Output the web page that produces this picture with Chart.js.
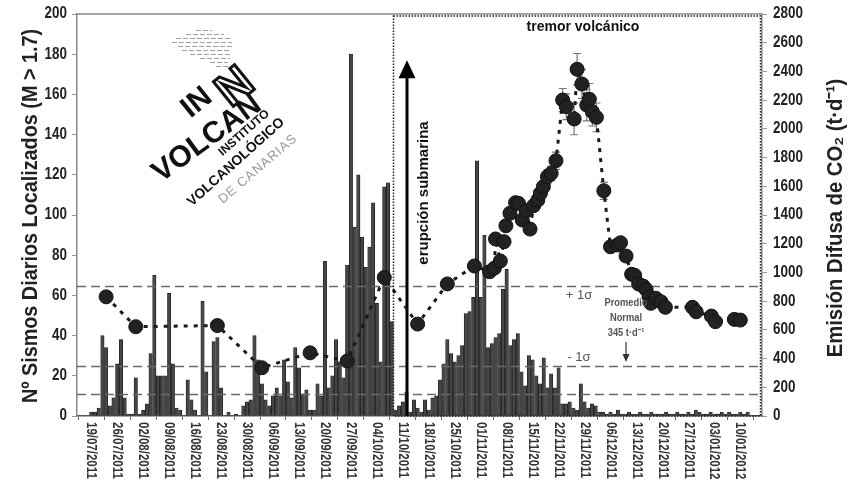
<!DOCTYPE html>
<html>
<head>
<meta charset="utf-8">
<script src="https://cdn.jsdelivr.net/npm/chart.js@4.4.1/dist/chart.umd.min.js"></script>
<style>
  html, body { margin: 0; background: #fff; }
</style>
</head>
<body>
<canvas id="chart" width="848" height="483"></canvas>
<script>
const SANS = '"Liberation Sans", Arial, sans-serif';

// x tick labels, one every 7 days starting 19/07/2011 (day 0)
const xTickLabels = ['19/07/2011', '26/07/2011', '02/08/2011', '09/08/2011', '16/08/2011', '23/08/2011',
  '30/08/2011', '06/09/2011', '13/09/2011', '20/09/2011', '27/09/2011', '04/10/2011', '11/10/2011',
  '18/10/2011', '25/10/2011', '01/11/2011', '08/11/2011', '15/11/2011', '22/11/2011', '29/11/2011',
  '06/12/2011', '13/12/2011', '20/12/2011', '27/12/2011', '03/01/2012', '10/01/2012'];
const tickStep = 7;
const leftTicks = [0, 20, 40, 60, 80, 100, 120, 140, 160, 180, 200];
const rightTicks = [0, 200, 400, 600, 800, 1000, 1200, 1400, 1600, 1800, 2000, 2200, 2400, 2600, 2800];

// daily located earthquakes (M > 1.7), day 0 = 19/07/2011
const quakes = [
  2, 2, 4, 40, 34, 5, 9, 26, 38, 9,
  1, 1, 19, 1, 3, 6, 31, 70, 20, 20,
  20, 61, 26, 4, 3, 0, 18, 8, 3, 0,
  57, 22, 0, 37, 39, 14, 0, 2, 0, 1,
  0, 5, 7, 8, 40, 28, 16, 8, 5, 10,
  14, 10, 28, 17, 9, 34, 24, 11, 13, 3,
  3, 16, 10, 77, 14, 20, 38, 27, 19, 75,
  180, 94, 120, 89, 74, 84, 106, 56, 27, 114,
  116, 47, 3, 5, 7, 12, 2, 8, 4, 2,
  8, 3, 9, 10, 18, 26, 38, 31, 27, 30,
  35, 51, 52, 59, 127, 59, 90, 34, 36, 39,
  41, 63, 73, 35, 38, 41, 22, 15, 30, 28,
  20, 16, 29, 14, 21, 14, 24, 6, 6, 7,
  4, 3, 16, 7, 4, 6, 5, 2, 2, 1,
  2, 1, 3, 1, 1, 2, 1, 1, 2, 1,
  1, 2, 1, 1, 1, 2, 1, 1, 2, 1,
  1, 2, 1, 3, 2, 1, 1, 2, 1, 1,
  2, 1, 2, 1, 1, 2, 1, 2
];

// diffuse CO2 emission (t/d): survey day, value, error
const co2Days = [4, 12, 34, 46, 59, 69, 79, 88, 96, 103.3,
  107.4, 108.7, 109.0, 110.3, 111.3, 111.8, 112.9, 114.4, 115.2, 116.2,
  117.3, 118.3, 119.3, 120.4, 121.1, 121.9, 123.0, 124.0, 125.3, 127.1,
  128.1, 130.2, 131.0, 132.3, 133.6, 134.3, 135.1, 136.2, 138.2, 140.0,
  141.9, 142.7, 144.2, 145.7, 146.5, 147.6, 148.8, 149.6, 150.4, 150.9,
  152.2, 153.6, 154.8, 162.1, 163.1, 167.2, 168.3, 173.4, 175.0];
const co2Values = [830, 622, 630, 336, 440, 383, 965, 640, 920, 1045,
  1005, 1030, 1233, 1080, 1214, 1325, 1412, 1486, 1481, 1365,
  1430, 1302, 1465, 1504, 1551, 1597, 1667, 1690, 1778, 2201,
  2154, 2069, 2415, 2312, 2166, 2206, 2120, 2080, 1569, 1179,
  1191, 1207, 1114, 987, 980, 919, 905, 882, 831, 785,
  820, 796, 757, 757, 726, 696, 657, 673, 668];
const co2Errors = [25, 0, 0, 0, 0, 0, 30, 0, 0, 0,
  0, 0, 0, 0, 0, 0, 0, 0, 0, 0,
  0, 0, 0, 30, 40, 40, 50, 50, 60, 80,
  90, 110, 110, 100, 110, 110, 100, 100, 60, 0,
  0, 0, 0, 0, 0, 0, 0, 0, 0, 0,
  0, 0, 0, 0, 0, 0, 0, 0, 0];

// reference levels on the CO2 axis (+1 sigma, normal mean 345, lower band)
const refLevels = [905, 345, 150];
const tremorStartDay = 81.4;
const eruptionDay = 85;

// narrow text: Liberation Sans squeezed horizontally
function narrowText(ctx, txt, x, y, squeeze, align) {
  ctx.save();
  ctx.translate(x, y);
  ctx.scale(squeeze, 1);
  ctx.textAlign = align;
  ctx.fillText(txt, 0, 0);
  ctx.restore();
}

const decor = {
  id: 'decor',
  afterDatasetDraw(chart, args) {
    if (chart.data.datasets[args.index].type !== 'bar') return;
    const { ctx, chartArea: a, scales: { x, y, y2 } } = chart;
    ctx.save();
    // dashed reference lines
    ctx.strokeStyle = '#6a6a6a';
    ctx.lineWidth = 1.6;
    ctx.setLineDash([9, 5]);
    refLevels.forEach(v => {
      const py = Math.round(y2.getPixelForValue(v)) + 0.5;
      ctx.beginPath(); ctx.moveTo(a.left, py); ctx.lineTo(a.right, py); ctx.stroke();
    });
    // dotted box: volcanic tremor
    ctx.strokeStyle = '#222';
    ctx.lineWidth = 1.5;
    ctx.setLineDash([1.5, 1.5]);
    const bx = Math.round(x.getPixelForValue(tremorStartDay)) + 0.5;
    ctx.strokeRect(bx, a.top + 2, a.right - 1.5 - bx, a.bottom - a.top - 2);
    // eruption arrow
    ctx.setLineDash([]);
    const ex = Math.round(x.getPixelForValue(eruptionDay));
    const tip = y.getPixelForValue(177);
    ctx.strokeStyle = '#000';
    ctx.lineWidth = 3;
    ctx.beginPath(); ctx.moveTo(ex, a.bottom); ctx.lineTo(ex, tip + 16); ctx.stroke();
    ctx.fillStyle = '#000';
    ctx.beginPath(); ctx.moveTo(ex, tip); ctx.lineTo(ex - 8.5, tip + 18); ctx.lineTo(ex + 8.5, tip + 18); ctx.closePath(); ctx.fill();
    // error bars of CO2 surveys
    ctx.strokeStyle = '#777';
    ctx.lineWidth = 1.2;
    co2Days.forEach((d, i) => {
      const e = co2Errors[i];
      if (!e) return;
      const px = x.getPixelForValue(d);
      const t = y2.getPixelForValue(co2Values[i] + e);
      const b = y2.getPixelForValue(co2Values[i] - e);
      ctx.beginPath();
      ctx.moveTo(px, t); ctx.lineTo(px, b);
      ctx.moveTo(px - 4, t); ctx.lineTo(px + 4, t);
      ctx.moveTo(px - 4, b); ctx.lineTo(px + 4, b);
      ctx.stroke();
    });
    ctx.restore();
  },
  afterDraw(chart) {
    const { ctx, chartArea: a, scales: { x, y, y2 } } = chart;
    ctx.save();
    // top frame line
    ctx.strokeStyle = '#888';
    ctx.lineWidth = 1.5;
    ctx.beginPath(); ctx.moveTo(a.left, a.top); ctx.lineTo(a.right, a.top); ctx.stroke();

    // y tick labels
    ctx.fillStyle = '#222';
    ctx.textBaseline = 'middle';
    ctx.font = 'bold 16px ' + SANS;
    leftTicks.forEach(v => narrowText(ctx, String(v), a.left - 10, y.getPixelForValue(v), 0.84, 'right'));
    rightTicks.forEach(v => narrowText(ctx, String(v), a.right + 11, y2.getPixelForValue(v), 0.84, 'left'));

    // x labels, rotated to read downwards
    ctx.fillStyle = '#333';
    ctx.font = 'bold 14px ' + SANS;
    xTickLabels.forEach((lab, i) => {
      const px = x.getPixelForValue(i * tickStep);
      ctx.save(); ctx.translate(px, a.bottom + 6); ctx.rotate(Math.PI / 2);
      narrowText(ctx, lab, 0, 0, 0.82, 'left');
      ctx.restore();
    });

    // axis titles
    ctx.fillStyle = '#222';
    ctx.font = 'bold 22px ' + SANS;
    ctx.save(); ctx.translate(31, 216); ctx.rotate(-Math.PI / 2);
    narrowText(ctx, 'Nº Sismos Diarios Localizados (M > 1.7)', 0, 0, 0.9, 'center'); ctx.restore();
    ctx.save(); ctx.translate(836, 218); ctx.rotate(-Math.PI / 2);
    narrowText(ctx, 'Emisión Difusa de CO₂ (t·d⁻¹)', 0, 0, 0.92, 'center'); ctx.restore();

    // annotations
    ctx.textAlign = 'center';
    ctx.font = 'bold 14px ' + SANS;
    ctx.fillStyle = '#111';
    ctx.fillText('tremor volcánico', 583, 27);
    ctx.save(); ctx.translate(424, 193); ctx.rotate(-Math.PI / 2);
    ctx.font = 'bold 15px ' + SANS;
    ctx.fillText('erupción submarina', 0, 0); ctx.restore();

    ctx.fillStyle = '#555';
    ctx.font = '13px ' + SANS;
    ctx.fillText('+ 1σ', 579, 295);
    ctx.fillText('- 1σ', 579, 357);
    ctx.font = 'bold 11px ' + SANS;
    narrowText(ctx, 'Promedio', 626, 303, 0.85, 'center');
    narrowText(ctx, 'Normal', 626, 318, 0.85, 'center');
    narrowText(ctx, '345 t·d⁻¹', 626, 333, 0.85, 'center');
    ctx.strokeStyle = '#333';
    ctx.lineWidth = 1.2;
    ctx.beginPath(); ctx.moveTo(626, 342); ctx.lineTo(626, 360); ctx.stroke();
    ctx.fillStyle = '#333';
    ctx.beginPath(); ctx.moveTo(626, 362); ctx.lineTo(622.5, 354); ctx.lineTo(629.5, 354); ctx.closePath(); ctx.fill();

    drawLogo(ctx);
    ctx.restore();
  }
};

function drawLogo(ctx) {
  ctx.save();
  // wave strokes above the logo
  ctx.strokeStyle = '#a0a0a0';
  ctx.lineWidth = 1;
  ctx.setLineDash([5, 2]);
  const rows = [[196, 212], [186, 224], [176, 230], [172, 232], [178, 232], [182, 230], [190, 232], [200, 230], [210, 228], [216, 228]];
  rows.forEach((r, i) => {
    const yy = 30.5 + i * 4;
    ctx.beginPath(); ctx.moveTo(r[0], yy); ctx.lineTo(r[1], yy); ctx.stroke();
  });
  ctx.setLineDash([]);
  const put = (txt, cx, cy, ang, font, color, spacing) => {
    ctx.save(); ctx.translate(cx, cy); ctx.rotate(ang);
    ctx.font = font; ctx.fillStyle = color;
    ctx.textAlign = 'center'; ctx.textBaseline = 'middle';
    ctx.letterSpacing = (spacing || 0) + 'px';
    ctx.fillText(txt, 0, 0); ctx.restore();
  };
  put('IN', 197, 103, -0.68, 'bold 30px ' + SANS, '#111');
  ctx.save(); ctx.translate(236, 88); ctx.rotate(-0.68);
  ctx.font = 'bold 46px ' + SANS; ctx.textAlign = 'center'; ctx.textBaseline = 'middle';
  ctx.lineWidth = 3; ctx.strokeStyle = '#111'; ctx.strokeText('N', 0, 0); ctx.restore();
  put('VOLCAN', 207, 139, -0.63, 'bold 30px ' + SANS, '#111');
  put('INSTITUTO', 244, 133, -0.72, 'bold 12px ' + SANS, '#111');
  put('VOLCANOLÓGICO', 236, 162, -0.73, 'bold 14px ' + SANS, '#111');
  put('DE CANARIAS', 258, 169, -0.71, '13px ' + SANS, '#9a9a9a', 1);
  ctx.restore();
}

new Chart(document.getElementById('chart'), {
  data: {
    datasets: [
      {
        type: 'line',
        label: 'CO2',
        yAxisID: 'y2',
        order: 0,
        data: co2Days.map((d, i) => ({ x: d, y: co2Values[i] })),
        borderColor: '#1a1a1a',
        borderWidth: 3,
        borderDash: [4, 6],
        pointRadius: 7,
        pointBackgroundColor: '#222',
        pointBorderColor: '#111',
        pointBorderWidth: 1,
        tension: 0
      },
      {
        type: 'bar',
        label: 'Sismos',
        yAxisID: 'y',
        order: 1,
        data: quakes.map((v, i) => ({ x: i, y: v })),
        backgroundColor: '#474747',
        borderColor: '#1a1a1a',
        borderWidth: 0.7,
        barThickness: 3.4,
        grouped: false
      }
    ]
  },
  options: {
    responsive: false,
    animation: false,
    layout: { padding: { top: 14, left: 0, right: 0, bottom: 0 } },
    plugins: {
      legend: { display: false },
      tooltip: { enabled: false }
    },
    scales: {
      x: {
        type: 'linear',
        min: -0.3,
        max: 177.3,
        afterBuildTicks: s => { s.ticks = xTickLabels.map((_, i) => ({ value: i * tickStep })); },
        afterFit: s => { s.height = 67; },
        ticks: { display: false },
        grid: { drawOnChartArea: false, tickLength: 4, color: '#666' },
        border: { color: '#555', width: 1.5 }
      },
      y: {
        position: 'left',
        min: 0,
        max: 200,
        afterBuildTicks: s => { s.ticks = leftTicks.map(v => ({ value: v })); },
        afterFit: s => { s.width = 77; },
        ticks: { display: false },
        grid: { drawOnChartArea: false, tickLength: 5, color: '#999' },
        border: { color: '#888', width: 1.5 }
      },
      y2: {
        position: 'right',
        min: 0,
        max: 2800,
        afterBuildTicks: s => { s.ticks = rightTicks.map(v => ({ value: v })); },
        afterFit: s => { s.width = 86; },
        ticks: { display: false },
        grid: { drawOnChartArea: false, tickLength: 5, color: '#999' },
        border: { color: '#888', width: 1.5 }
      }
    }
  },
  plugins: [decor]
});
</script>
</body>
</html>
